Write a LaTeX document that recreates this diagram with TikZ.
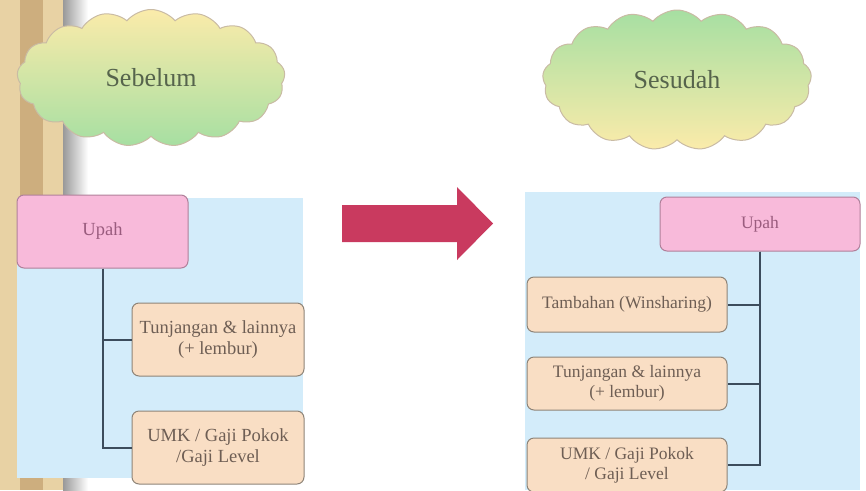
\documentclass[tikz,border=0pt]{standalone}
\usepackage{fontspec}
\setmainfont{Liberation Serif}
\usetikzlibrary{shapes.symbols}

\definecolor{tiangterang}{HTML}{E8D2A4}
\definecolor{tianggelap}{HTML}{CDAE7E}
\definecolor{panelbiru}{HTML}{D3ECFA}
\definecolor{upahfill}{HTML}{F8BADA}
\definecolor{upahline}{HTML}{B0809A}
\definecolor{upahtext}{HTML}{9A5C7E}
\definecolor{gajifill}{HTML}{F9DEC4}
\definecolor{gajiline}{HTML}{8E8478}
\definecolor{gajitext}{HTML}{6E5E54}
\definecolor{cabangline}{HTML}{3C4C5C}
\definecolor{awankuning}{HTML}{FBEBAA}
\definecolor{awanhijau}{HTML}{A6DFA2}
\definecolor{awanline}{HTML}{C9BBA4}
\definecolor{awantext}{HTML}{56644C}
\definecolor{panahmerah}{HTML}{C93A5F}

\newcommand\awantextstyle{\fontsize{26}{28}\selectfont}
\newcommand\gajitextstyle{\fontsize{18.5}{21}\selectfont}
\newcommand\gajikanantextstyle{\fontsize{17.5}{20}\selectfont}

\tikzset{
  awan/.style={cloud, cloud puffs=17, cloud puff arc=100, aspect=2,
    draw=awanline, line width=1pt, text=awantext, font=\awantextstyle},
  upahbox/.style={draw=upahline, fill=upahfill, line width=1pt,
    rounded corners=7pt, text=upahtext, inner sep=0pt},
  gajibox/.style={draw=gajiline, fill=gajifill, line width=1pt,
    rounded corners=7pt, text=gajitext, inner sep=0pt, align=center},
  cabang/.style={draw=cabangline, line width=2pt}
}

\begin{document}
\begin{tikzpicture}[x=1pt, y=-1pt]
  \useasboundingbox (0,0) rectangle (866,490);
  % tiang kayu di kiri
  \fill[tiangterang] (0,0) rectangle (63,490);
  \fill[tianggelap] (20,0) rectangle (43,490);
  \shade[left color=black!40, right color=white] (63,0) rectangle (88,490);

  \fill[panelbiru] (17,198) rectangle (303,478);
  \fill[panelbiru] (525,192) rectangle (860,490);

  \node[awan, top color=awankuning, bottom color=awanhijau,
    minimum width=268pt, minimum height=137pt] (awankiri) at (151,78) {Sebelum};
  \node[awan, top color=awanhijau, bottom color=awankuning,
    minimum width=269pt, minimum height=140pt] (awankanan) at (677,80) {Sesudah};

  % sebelum
  \node[upahbox, minimum width=171pt, minimum height=73pt, font=\gajitextstyle]
    (upahkiri) at (102.5,231.5) {Upah};
  \node[gajibox, minimum width=172pt, minimum height=73pt, font=\gajitextstyle]
    (tunjkiri) at (218,339.5) {Tunjangan \& lainnya\\(+ lembur)};
  \node[gajibox, minimum width=172pt, minimum height=73pt, font=\gajitextstyle]
    (umkkiri) at (218,447.5) {UMK / Gaji Pokok\\/Gaji Level};
  \draw[cabang] (upahkiri.south) |- (tunjkiri.west);
  \draw[cabang] (upahkiri.south) |- (umkkiri.west);

  \fill[panahmerah] (342,205) -- (457,205) -- (457,187) -- (493,223.5)
    -- (457,260) -- (457,242) -- (342,242) -- cycle;

  % sesudah
  \node[upahbox, minimum width=200pt, minimum height=54pt, font=\gajikanantextstyle]
    (upahkanan) at (760,224) {Upah};
  \node[gajibox, minimum width=200pt, minimum height=55pt, font=\gajikanantextstyle]
    (tambahkanan) at (627,304.5) {Tambahan (Winsharing)};
  \node[gajibox, minimum width=200pt, minimum height=53pt, font=\gajikanantextstyle]
    (tunjkanan) at (627,383.5) {Tunjangan \& lainnya\\(+ lembur)};
  \node[gajibox, minimum width=200pt, minimum height=54pt, font=\gajikanantextstyle]
    (umkkanan) at (627,465) {UMK / Gaji Pokok\\/ Gaji Level};
  \draw[cabang] (upahkanan.south) |- (tambahkanan.east);
  \draw[cabang] (upahkanan.south) |- (tunjkanan.east);
  \draw[cabang] (upahkanan.south) |- (umkkanan.east);
\end{tikzpicture}
\end{document}
